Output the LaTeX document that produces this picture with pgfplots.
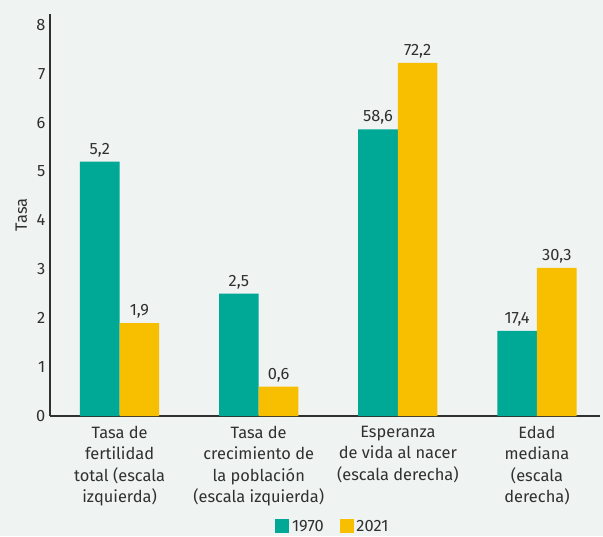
\documentclass[border=0pt]{standalone}
\usepackage{pgfplots}
\pgfplotsset{compat=1.18}
\usepackage{fontspec}
\setmainfont{Fira Sans}

\definecolor{bg}{HTML}{EFF3F2}
\definecolor{c1970}{HTML}{00A896}
\definecolor{c2021}{HTML}{F8BE00}
\definecolor{txt}{HTML}{303030}

\begin{document}
\begin{tikzpicture}
% background of the whole figure (1px = 0.75pt)
\fill[bg] (-37.5pt,-90pt) rectangle (414.75pt,312pt);
\begin{axis}[
    at={(0pt,0pt)}, anchor=south west,
    scale only axis,
    width=412.5pt, height=301.5pt,
    ybar=0pt, bar width=0.285,
    xmin=-0.5, xmax=3.453,
    ymin=0, ymax=8.22,
    axis x line*=bottom, axis y line*=left,
    axis line style={draw=txt, line width=0.8pt},
    major tick length=0pt,
    xtick={0,1,2,3},
    xticklabels={
        {Tasa de\\fertilidad\\total (escala\\izquierda)},
        {Tasa de\\crecimiento de\\la población\\(escala izquierda)},
        {Esperanza\\de vida al nacer\\(escala derecha)},
        {Edad\\mediana\\(escala\\derecha)}},
    ytick={0,1,...,8},
    /pgf/number format/assume math mode=true,
    tick label style={font=\fontsize{12.3}{16}\selectfont, text=txt},
    x tick label style={align=center, anchor=north, yshift=-4pt},
    ylabel={Tasa},
    ylabel style={font=\fontsize{12.3}{16}\selectfont, text=txt},
    nodes near coords,
    point meta=explicit symbolic,
    every node near coord/.append style={font=\fontsize{12.3}{16}\selectfont, text=txt},
    legend style={at={(0.515,-0.275)}, anchor=center, legend columns=2,
        draw=none, fill=none, font=\fontsize{12.3}{16}\selectfont, text=txt,
        /tikz/every even column/.append style={column sep=10pt}},
    legend image code/.code={\fill[#1] (0pt,-5pt) rectangle (10.5pt,5.5pt);},
]
\addplot[fill=c1970, draw=none] coordinates {
    (0,5.2) [5,2] (1,2.5) [2,5] (2,5.86) [58,6] (3,1.74) [17,4]
};
\addlegendentry{1970}
\addplot[fill=c2021, draw=none] coordinates {
    (0,1.9) [1,9] (1,0.6) [0,6] (2,7.22) [72,2] (3,3.03) [30,3]
};
\addlegendentry{2021}
\end{axis}
\pgfresetboundingbox
\useasboundingbox (-37.5pt,-90pt) rectangle (414.75pt,312pt);
\end{tikzpicture}
\end{document}
